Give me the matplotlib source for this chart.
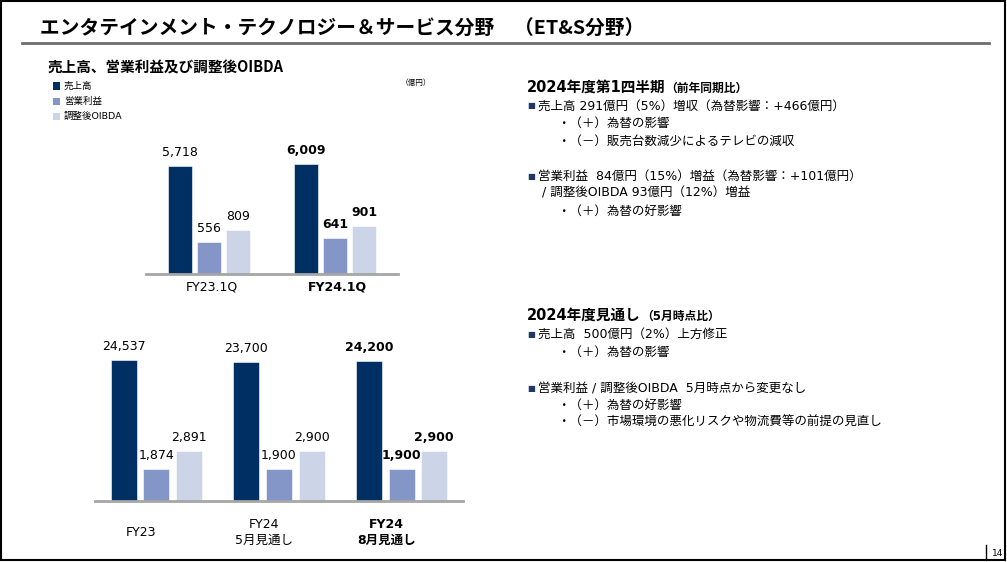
import numpy as np
import matplotlib.pyplot as plt
from matplotlib.patches import Rectangle
from matplotlib.lines import Line2D

# data
q_periods = ['FY23.1Q', 'FY24.1Q']
q_sales = [5718, 6009]
q_op = [556, 641]
q_oibda = [809, 901]

y_periods = ['FY23', 'FY24\n5月見通し', 'FY24\n8月見通し']
y_sales = [24537, 23700, 24200]
y_op = [1874, 1900, 1900]
y_oibda = [2891, 2900, 2900]

series_names = ['売上高', '営業利益', '調整後OIBDA']
colors = ['#003063', '#8496c7', '#ccd5e8']

W, H = 1007, 562
JP = ['DejaVu Sans', 'Noto Sans CJK JP']

fig = plt.figure(figsize=(W / 100, H / 100), dpi=100)
renderer = fig.canvas.get_renderer()


def fx(x):
    return x / W


def fy(y):
    return 1 - y / H


def px_axes(left, top, right, bottom):
    return fig.add_axes([fx(left), fy(bottom), (right - left) / W, (bottom - top) / H])


# frame, title, underline
fig.patches.append(Rectangle((fx(1), fy(560)), fx(1004), (559) / H, transform=fig.transFigure,
                             fill=False, edgecolor='black', linewidth=1.5))
fig.lines.append(Line2D([fx(22), fx(989)], [fy(43), fy(43)], transform=fig.transFigure,
                        color='#6e6e6e', linewidth=2))
fig.lines.append(Line2D([fx(985.5), fx(985.5)], [fy(545), fy(560)], transform=fig.transFigure,
                        color='black', linewidth=1))
fig.text(fx(998), fy(553), '14', fontsize=6.5, ha='center', va='center', family=JP)
fig.text(fx(40), fy(29), 'エンタテインメント・テクノロジー＆サービス分野　（ET&S分野）',
         fontsize=14.2, fontweight='bold', family=['Noto Sans CJK JP'], va='center')

# subtitle and legend
fig.text(fx(48), fy(68), '売上高、営業利益及び調整後OIBDA', fontsize=10.5, fontweight='bold',
         family=['Noto Sans CJK JP'], va='center')
for i, (name, c) in enumerate(zip(series_names, colors)):
    yy = 86 + i * 15.3
    fig.patches.append(Rectangle((fx(53), fy(yy + 3.5)), 7 / W, 7 / H, transform=fig.transFigure,
                                 facecolor=c, edgecolor='none'))
    fig.text(fx(64), fy(yy), name, fontsize=6.8, family=JP, va='center')
fig.text(fx(416), fy(82), '（億円）', fontsize=5.5, family=JP, va='center', ha='center')


def draw_bars(ax, periods, series, width, step, bold_idx, lo, hi):
    x = np.arange(len(periods))
    for k, (vals, c) in enumerate(zip(series, colors)):
        xs = x + (k - 1) * step
        ax.bar(xs, vals, width=width, color=c, edgecolor='white', linewidth=0.4)
        for i, (xi, v) in enumerate(zip(xs, vals)):
            ax.annotate(f'{v:,}', (xi, v), xytext=(0, 5), textcoords='offset points',
                        ha='center', va='bottom', fontsize=9, family=JP,
                        fontweight='bold' if i == bold_idx else 'normal')
    ax.set_yscale('log')
    ax.set_ylim(lo, hi)
    ax.set_xlim(-0.5, len(periods) - 0.5)
    for s in ['top', 'right', 'left']:
        ax.spines[s].set_visible(False)
    ax.spines['bottom'].set_color('#a6a6a6')
    ax.spines['bottom'].set_linewidth(2)
    ax.set_yticks([])
    ax.minorticks_off()
    ax.set_xticks([])
    ax.patch.set_alpha(0)


# quarterly chart
ax1 = px_axes(146, 130, 398, 274)
draw_bars(ax1, q_periods, [q_sales, q_op, q_oibda], 0.183, 0.23, 1, np.exp(5.351), np.exp(9.745))
for i, p in enumerate(q_periods):
    ax1.annotate(p, (i, 0), xycoords=('data', 'axes fraction'), xytext=(2, -9),
                 textcoords='offset points', ha='center', va='center', fontsize=9, family=JP,
                 fontweight='bold' if i == 1 else 'normal')

# annual chart
ax2 = px_axes(95, 340, 463, 501)
draw_bars(ax2, y_periods, [y_sales, y_op, y_oibda], 0.212, 0.266, 2, np.exp(6.786), np.exp(10.580))
for i, p in enumerate(y_periods):
    ax2.annotate(p, (i, 0), xycoords=('data', 'axes fraction'), xytext=(-11, -22.5),
                 textcoords='offset points', ha='center', va='center', fontsize=9, family=JP,
                 multialignment='center', linespacing=1.3,
                 fontweight='bold' if i == 2 else 'normal')

# commentary on the right
navy = '#1f3864'


def heading(y, main, sub):
    t = fig.text(fx(527), fy(y), main, fontsize=10.5, fontweight='bold', family=JP, va='center')
    bb = t.get_window_extent(renderer)
    fig.text(bb.x1 / W, fy(y + 1), sub, fontsize=8.5, fontweight='bold', family=JP, va='center')


def bullet(y, txt):
    fig.text(fx(527), fy(y), '■', fontsize=6, color=navy, family=JP, va='center')
    fig.text(fx(538), fy(y), txt, fontsize=9, family=JP, va='center')


def plain(x, y, txt):
    fig.text(fx(x), fy(y), txt, fontsize=9, family=JP, va='center')


heading(87, '2024年度第1四半期', '（前年同期比）')
bullet(106, '売上高 291億円（5%）増収（為替影響：+466億円）')
plain(557, 123.5, '・（＋）為替の影響')
plain(557, 141, '・（－）販売台数減少によるテレビの減収')
bullet(176, '営業利益  84億円（15%）増益（為替影響：+101億円）')
plain(542, 193.5, '/ 調整後OIBDA 93億円（12%）増益')
plain(557, 211.5, '・（＋）為替の好影響')

heading(315, '2024年度見通し', '（5月時点比）')
bullet(334.5, '売上高  500億円（2%）上方修正')
plain(557, 352, '・（＋）為替の影響')
bullet(388.5, '営業利益 / 調整後OIBDA  5月時点から変更なし')
plain(557, 405, '・（＋）為替の好影響')
plain(557, 422, '・（－）市場環境の悪化リスクや物流費等の前提の見直し')

fig.savefig('out.png', dpi=100)
